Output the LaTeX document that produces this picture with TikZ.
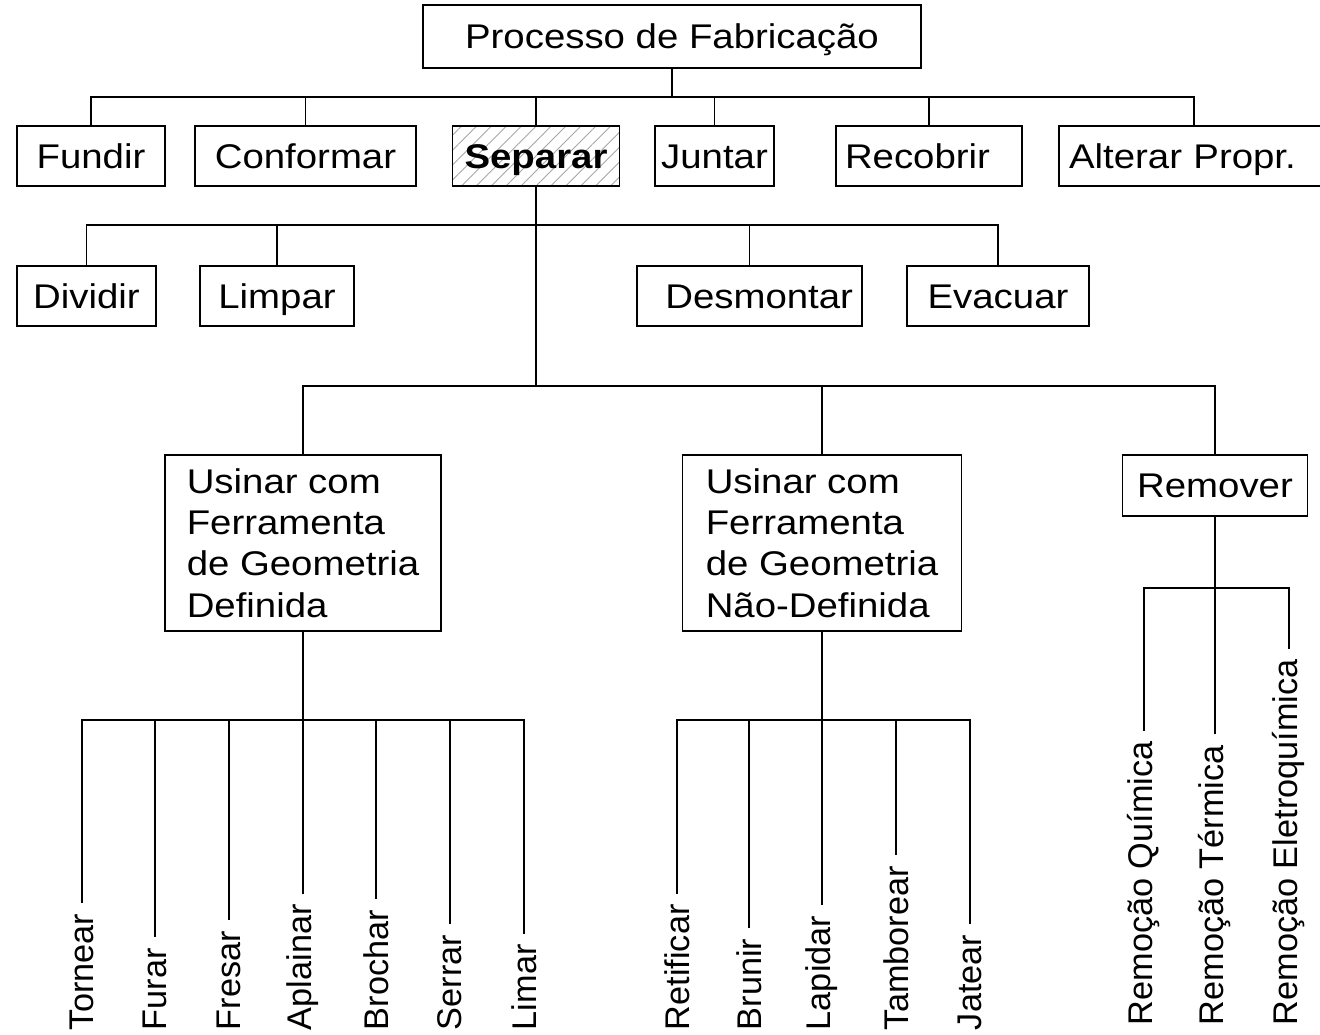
\documentclass[tikz,border=0pt]{standalone}
\usepackage{fontspec}
\setmainfont[FakeStretch=1.12]{Liberation Sans}
\newfontfamily\leaffont{Liberation Sans}
\usetikzlibrary{patterns.meta}

\begin{document}
\begin{tikzpicture}[
x=0.02cm, y=-0.02cm,
bx/.style = {draw,line width=1.1pt,minimum height=1.2cm,inner sep=2pt,font=\fontsize{19.5}{23.5}\selectfont},
one/.style = {bx,text height=0.48cm,text depth=0pt},
edge/.style = {line width=1.1pt},
leaf/.style = {rotate=90,anchor=west,inner xsep=6pt,inner ysep=0pt,font=\leaffont\fontsize{19.5}{23.5}\selectfont}
]
  \useasboundingbox (0,0) rectangle (1320,1035);

  \node[one,minimum width=9.96cm,minimum height=1.26cm] (proc) at (672,36.5) {Processo de Fabricação};

  \node[one,minimum width=2.96cm] (fundir) at (91,156) {Fundir};
  \node[one,minimum width=4.42cm] (conformar) at (305.5,156) {Conformar};
  \node[one,minimum width=3.34cm,pattern={Lines[angle=45,distance=6pt,line width=0.5pt]},pattern color=gray!70] (separar) at (536,156) {\bfseries Separar};
  \node[one,minimum width=2.38cm] (juntar) at (714.5,156) {Juntar};
  \node[one,text width=3.36cm,align=left,inner xsep=0.18cm] (recobrir) at (929,156) {Recobrir};
  \node[one,text width=5.0cm,align=left,inner xsep=0.2cm] (alterar) at (1194,156) {Alterar Propr.};

  \node[one,minimum width=2.78cm] (dividir) at (86.5,296) {Dividir};
  \node[one,minimum width=3.08cm] (limpar) at (277,296) {Limpar};
  \node[one,text width=4.14cm,align=right,inner xsep=0.18cm] (desmontar) at (749.5,296) {Desmontar};
  \node[one,minimum width=3.64cm] (evacuar) at (998,296) {Evacuar};

  \node[bx,align=left,minimum width=5.52cm,minimum height=3.52cm] (usinarDef) at (303,543) {Usinar com\\Ferramenta\\de Geometria\\Definida};
  \node[bx,align=left,minimum width=5.58cm,minimum height=3.52cm] (usinarNDef) at (822,543) {Usinar com\\Ferramenta\\de Geometria\\Não-Definida};
  \node[one,minimum width=3.7cm,minimum height=1.22cm] (remover) at (1215,485.5) {Remover};

  % folhas
  \node[leaf] (tornear) at (82,1041) {Tornear};
  \node[leaf] (furar) at (155,1041) {Furar};
  \node[leaf] (fresar) at (229,1041) {Fresar};
  \node[leaf] (aplainar) at (303,1041) {Aplainar};
  \node[leaf] (brochar) at (376,1041) {Brochar};
  \node[leaf] (serrar) at (450,1041) {Serrar};
  \node[leaf] (limar) at (524,1041) {Limar};

  \node[leaf] (retificar) at (677,1041) {Retificar};
  \node[leaf] (brunir) at (749,1041) {Brunir};
  \node[leaf] (lapidar) at (822,1041) {Lapidar};
  \node[leaf] (tamborear) at (896,1041) {Tamborear};
  \node[leaf] (jatear) at (970,1041) {Jatear};

  \node[leaf] (quimica) at (1144,1036) {Remoção Química};
  \node[leaf] (termica) at (1215,1036) {Remoção Térmica};
  \node[leaf] (eletro) at (1289,1036) {Remoção Eletroquímica};

  % barramentos
  \coordinate (busTop) at (672,97);
  \coordinate (busSep) at (536,225);
  \coordinate (busUsi) at (536,386);
  \coordinate (busDef) at (303,720);
  \coordinate (busNDef) at (822,720);
  \coordinate (busRem) at (1215,588);

  \draw[edge] (proc) -- (busTop);
  \draw[edge] (busTop) -| (fundir);
  \draw[edge] (busTop) -| (conformar);
  \draw[edge] (busTop) -| (separar);
  \draw[edge] (busTop) -| (juntar);
  \draw[edge] (busTop) -| (recobrir);
  \draw[edge] (busTop) -| (alterar);

  \draw[edge] (separar) -- (busUsi);
  \draw[edge] (busSep) -| (dividir);
  \draw[edge] (busSep) -| (limpar);
  \draw[edge] (busSep) -| (desmontar);
  \draw[edge] (busSep) -| (evacuar);

  \draw[edge] (busUsi) -| (usinarDef);
  \draw[edge] (busUsi) -| (usinarNDef);
  \draw[edge] (busUsi) -| (remover);

  \draw[edge] (usinarDef) -- (busDef);
  \draw[edge] (busDef) -| (tornear.east);
  \draw[edge] (busDef) -| (furar.east);
  \draw[edge] (busDef) -| (fresar.east);
  \draw[edge] (busDef) -- (aplainar.east);
  \draw[edge] (busDef) -| (brochar.east);
  \draw[edge] (busDef) -| (serrar.east);
  \draw[edge] (busDef) -| (limar.east);

  \draw[edge] (usinarNDef) -- (busNDef);
  \draw[edge] (busNDef) -| (retificar.east);
  \draw[edge] (busNDef) -| (brunir.east);
  \draw[edge] (busNDef) -- (lapidar.east);
  \draw[edge] (busNDef) -| (tamborear.east);
  \draw[edge] (busNDef) -| (jatear.east);

  \draw[edge] (remover) -- (busRem);
  \draw[edge] (busRem) -| (quimica.east);
  \draw[edge] (busRem) -- (termica.east);
  \draw[edge] (busRem) -| (eletro.east);
\end{tikzpicture}
\end{document}
